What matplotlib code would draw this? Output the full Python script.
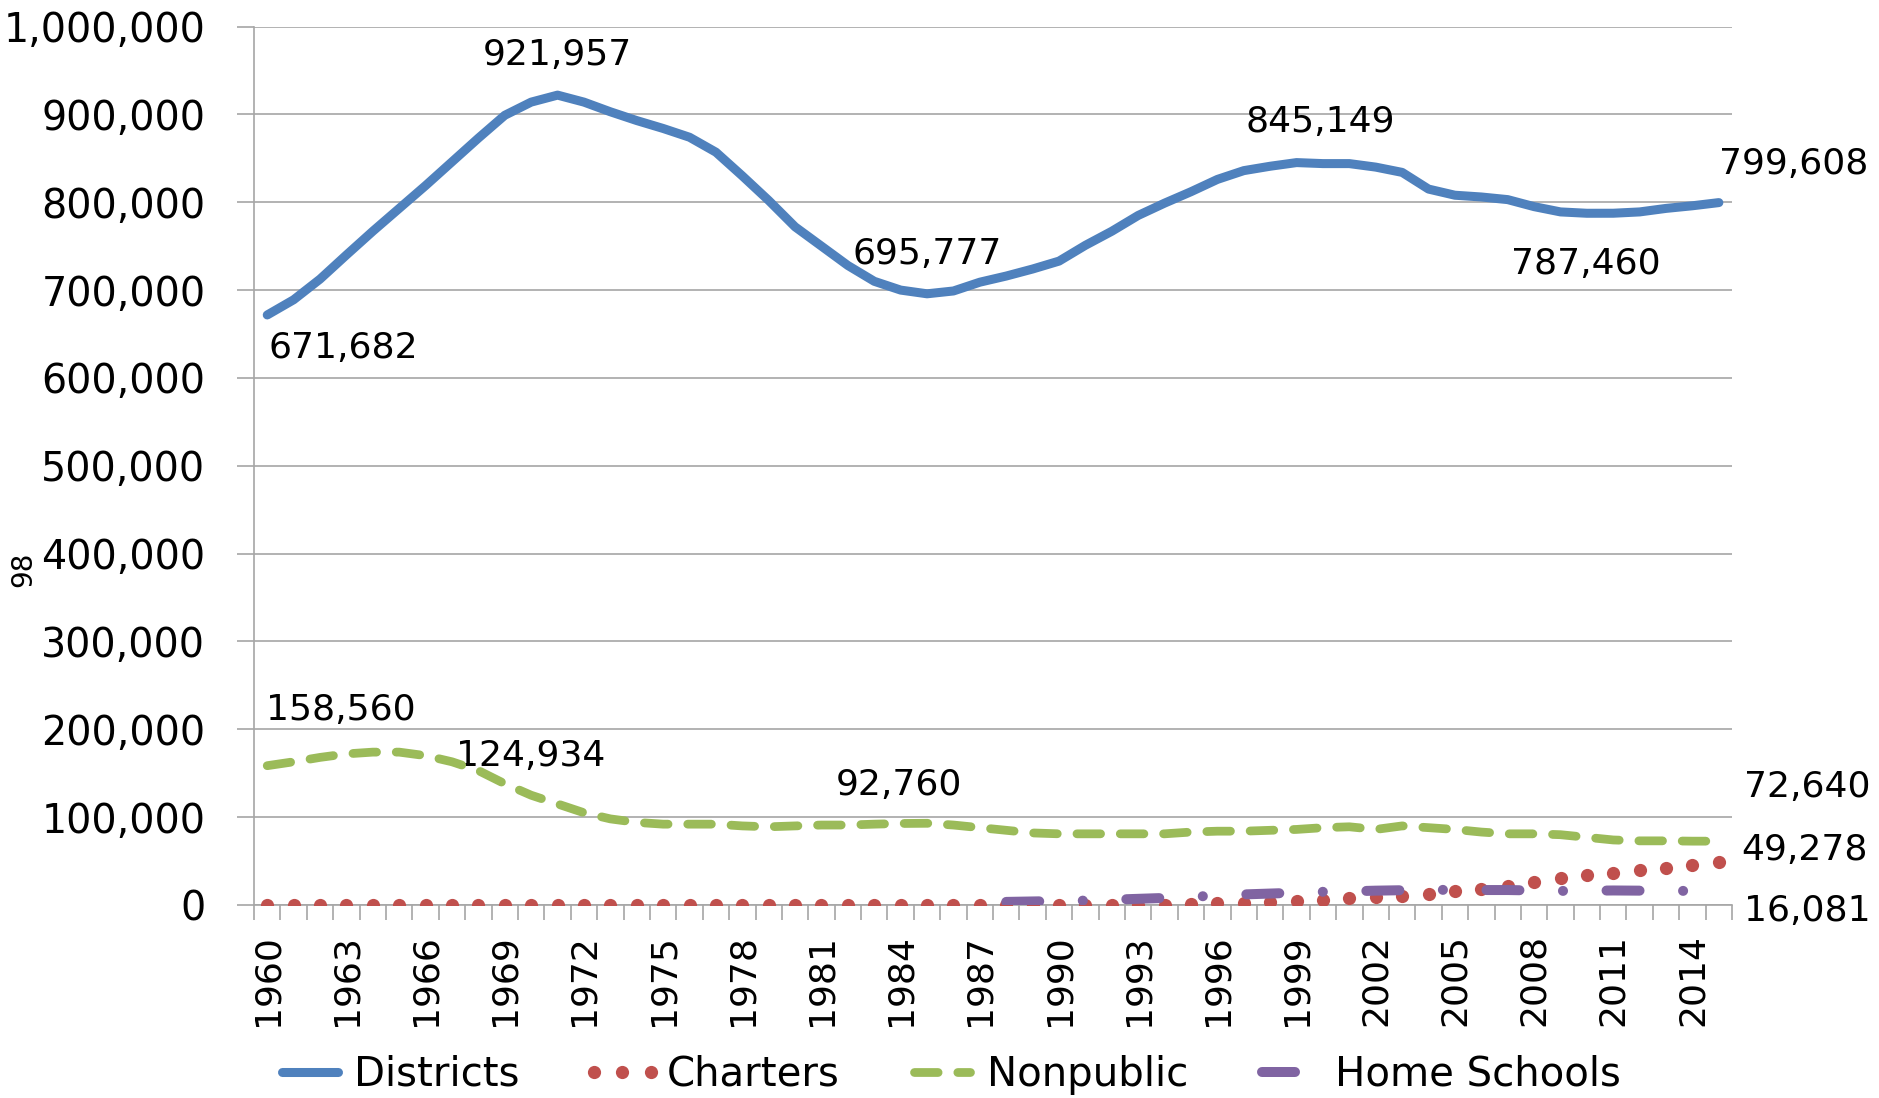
import matplotlib
matplotlib.use("Agg")
import matplotlib.pyplot as plt
import numpy as np

# enrollment by year, 1960-2015
years = list(range(1960, 2016))

districts = [671682, 689000, 712500, 740000, 767000, 793000, 819000, 846000, 873000, 899000,
             914000, 921957, 914000, 903000, 893000, 884000, 874000, 857000, 830000, 802000,
             772000, 750000, 728000, 710000, 700000, 695777, 699000, 709000, 716000, 724000,
             733000, 751000, 767000, 785000, 799000, 812000, 826000, 836000, 841000, 845149,
             844000, 844000, 840000, 834000, 815000, 808000, 806000, 803000, 795000, 789000,
             787460, 787500, 789000, 793000, 796000, 799608]

charters = [0] * 34 + [500, 1000, 2000, 2500, 3500, 4500, 6000, 7500, 9000, 10500,
                       12500, 15500, 18500, 21500, 26500, 30500, 34000, 36500, 39500, 42500,
                       45500, 49278]

nonpublic = [158560, 163000, 168000, 172000, 174000, 174000, 170000, 163000, 153000, 138000,
             124934, 115000, 105000, 98000, 94000, 92000, 92000, 92000, 90000, 89000,
             90000, 91000, 91000, 92000, 92760, 93000, 91000, 88000, 85000, 82000,
             81000, 81000, 81000, 81000, 81000, 83000, 84000, 84000, 85000, 86000,
             88000, 89000, 86000, 90000, 88000, 86000, 83000, 81000, 81000, 80000,
             77000, 74000, 73000, 73000, 72640, 72640]

home_years = list(range(1988, 2015))
home_schools = [3500, 4000, 4500, 5000, 6000, 7000, 8000, 9500, 10500, 12000,
                13000, 14000, 15000, 15500, 16300, 16800, 17200, 17200, 17000, 17000,
                16500, 16000, 16200, 16500, 16300, 16000, 16081]

# value labels as Excel placed them
labels = [("671,682", 1962.9, 634000), ("921,957", 1971.0, 968000),
          ("695,777", 1985.0, 741000), ("845,149", 1999.9, 891000),
          ("787,460", 2009.95, 730000), ("799,608", 2017.85, 843000),
          ("158,560", 1962.8, 222000), ("124,934", 1970.0, 170000),
          ("92,760", 1983.95, 137000), ("72,640", 2018.35, 134000),
          ("49,278", 2018.25, 63000), ("16,081", 2018.35, -6500)]

blue = "#4F81BD"
red = "#C0504D"
green = "#9BBB59"
purple = "#8064A2"
grid = "#A6A6A6"

plt.rcParams["font.family"] = ["DejaVu Sans"]

fig = plt.figure(figsize=(18.79, 10.98), dpi=100)
ax = fig.add_axes([0.1352, 0.1758, 0.7866, 0.8])

ax.plot(years, districts, color=blue, lw=6.5, solid_capstyle="round", label="Districts", zorder=3)
ax.plot(years, charters, color=red, lw=0, marker="o", markersize=9.5, markeredgewidth=0,
        label="Charters", zorder=4)
ax.plot(years, nonpublic, color=green, lw=6.3, dash_capstyle="round", dashes=(2.7, 2.25),
        label="Nonpublic", zorder=5)
ax.plot(home_years, home_schools, color=purple, lw=7.2, dash_capstyle="round",
        dashes=(3.3, 4.35, 0.01, 4.35), label="Home Schools", zorder=6)

for txt, x, y in labels:
    ax.text(x, y, txt, fontsize=26, ha="center", va="center", clip_on=False)

ax.set_xlim(1959.5, 2015.5)
ax.set_ylim(0, 1000000)
ax.set_yticks(np.arange(0, 1000001, 100000))
ax.set_yticklabels([f"{v:,}" for v in range(0, 1000001, 100000)])
ax.set_xticks(years[::3])
ax.set_xticklabels([str(y) for y in years[::3]], rotation=90)
ax.set_xticks(np.arange(1959.5, 2016, 1), minor=True)

ax.tick_params(axis="y", labelsize=28.5, length=12, width=1.2, color=grid, pad=23)
ax.tick_params(axis="x", which="major", labelsize=26, length=0, pad=21)
ax.tick_params(axis="x", which="minor", length=11, width=1.2, color=grid)

ax.grid(axis="y", color=grid, lw=1.2, zorder=0)
ax.set_axisbelow(True)
for s in ["top", "right"]:
    ax.spines[s].set_visible(False)
for s in ["left", "bottom"]:
    ax.spines[s].set_color(grid)
    ax.spines[s].set_linewidth(1.2)

ax.set_ylabel("98", fontsize=20)
ax.yaxis.set_label_coords(-0.147, 0.3826)

fig.legend(loc="center", bbox_to_anchor=(0.503, 0.021), ncol=4, frameon=False,
           fontsize=29, handlelength=2.0, handletextpad=0.1, columnspacing=1.55,
           numpoints=3)

fig.savefig("out.png", dpi=100)
